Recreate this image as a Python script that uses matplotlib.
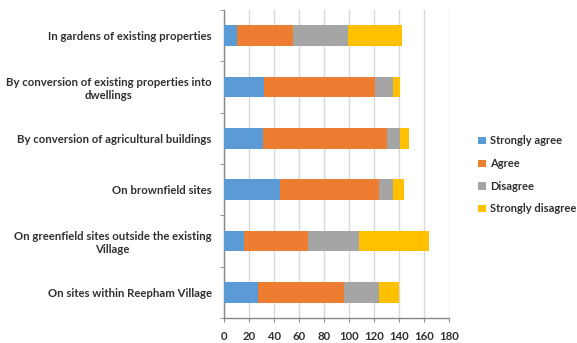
import matplotlib
matplotlib.use("Agg")
import matplotlib.pyplot as plt
import numpy as np

categories = [
    "In gardens of existing properties",
    "By conversion of existing properties into\ndwellings",
    "By conversion of agricultural buildings",
    "On brownfield sites",
    "On greenfield sites outside the existing\nVillage",
    "On sites within Reepham Village",
]
strongly_agree = [10, 32, 31, 45, 16, 27]
agree = [45, 89, 99, 79, 51, 69]
disagree = [44, 14, 11, 11, 41, 28]
strongly_disagree = [43, 6, 7, 9, 56, 16]

series_names = ["Strongly agree", "Agree", "Disagree", "Strongly disagree"]
series_values = [strongly_agree, agree, disagree, strongly_disagree]
colors = ["#5B9BD5", "#ED7D31", "#A5A5A5", "#FFC000"]

x_ticks = list(range(0, 181, 20))

plt.rcParams["font.family"] = ["Lato", "DejaVu Sans"]
plt.rcParams["font.weight"] = "bold"
FS = 8.2
TXT = "#303030"

fig = plt.figure(figsize=(5.77, 3.43), dpi=100)
ax = fig.add_axes([224 / 577, 25 / 343, 225 / 577, 308 / 343])

y = np.arange(len(categories))
left = np.zeros(len(categories))
for name, vals, c in zip(series_names, series_values, colors):
    ax.barh(y, vals, left=left, height=0.4, color=c, label=name, zorder=3)
    left += np.array(vals)

ax.set_xlim(0, 180)
ax.set_ylim(len(categories) - 0.5, -0.5)
ax.set_xticks(x_ticks)
ax.set_xticklabels([str(t) for t in x_ticks])
ax.set_yticks(y)
ax.set_yticklabels(categories, ha="right", multialignment="center")
ax.set_yticks(np.arange(-0.5, len(categories), 1), minor=True)

ax.grid(axis="x", color="#D9D9D9", linewidth=1, zorder=0)
for s in ["top", "right"]:
    ax.spines[s].set_visible(False)
for s in ["left", "bottom"]:
    ax.spines[s].set_color("#888888")
    ax.spines[s].set_linewidth(1)

ax.tick_params(axis="y", which="major", length=0, pad=9, labelsize=FS,
               labelcolor=TXT)
ax.tick_params(axis="y", which="minor", length=3, color="#888888")
ax.tick_params(axis="x", which="major", length=3, color="#888888", pad=6,
               labelsize=FS, labelcolor=TXT)

leg = fig.legend(loc="upper left", bbox_to_anchor=(474 / 577, 1 - 131 / 343),
                 frameon=False, fontsize=8.0, handlelength=0.65, handleheight=0.65,
                 handletextpad=0.4, labelspacing=1.05, borderaxespad=0)
for t in leg.get_texts():
    t.set_color(TXT)

fig.savefig("out.png", dpi=100)
